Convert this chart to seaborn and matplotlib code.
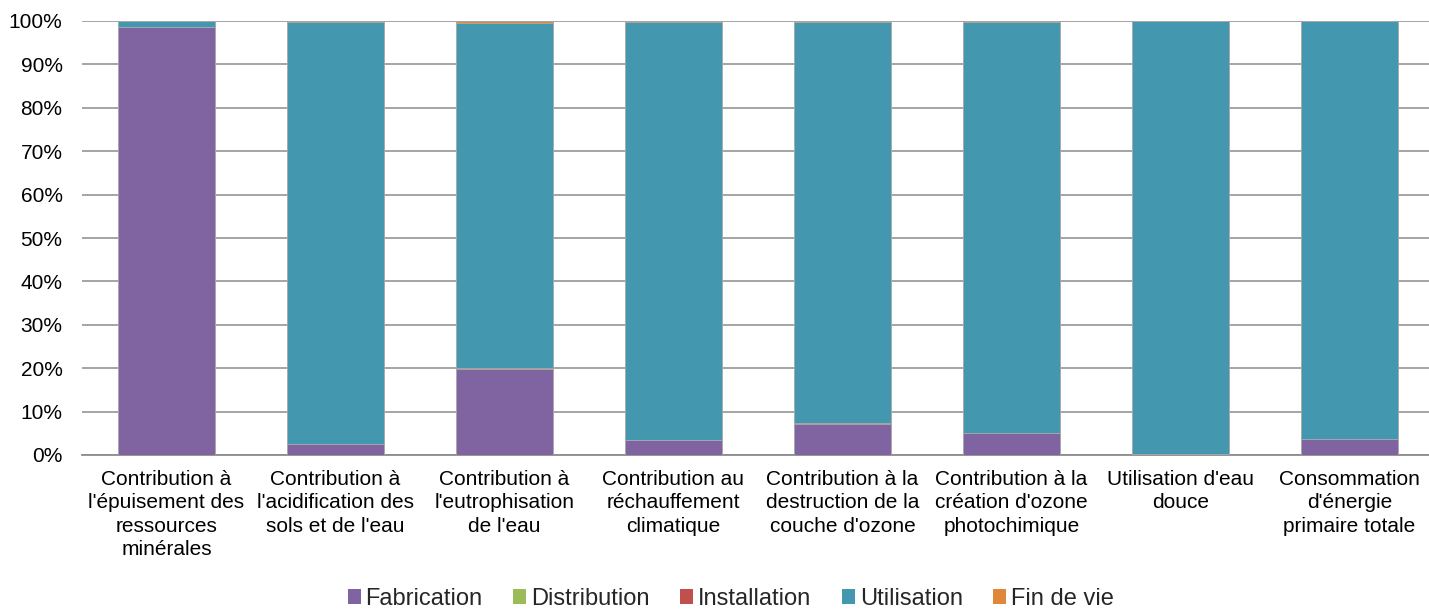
import matplotlib
matplotlib.use("Agg")
import matplotlib.pyplot as plt
import seaborn as sns
import numpy as np
import pandas as pd
from matplotlib.patches import Rectangle
from matplotlib.ticker import FuncFormatter

categories = [
    "Contribution à\nl'épuisement des\nressources\nminérales",
    "Contribution à\nl'acidification des\nsols et de l'eau",
    "Contribution à\nl'eutrophisation\nde l'eau",
    "Contribution au\nréchauffement\nclimatique",
    "Contribution à la\ndestruction de la\ncouche d'ozone",
    "Contribution à la\ncréation d'ozone\nphotochimique",
    "Utilisation d'eau\ndouce",
    "Consommation\nd'énergie\nprimaire totale",
]
series_names = ["Fabrication", "Distribution", "Installation", "Utilisation", "Fin de vie"]
fabrication = [98.6, 2.45, 19.8, 3.4, 7.2, 5.1, 0.3, 3.6]
distribution = [0.05, 0.05, 0.1, 0.05, 0.05, 0.05, 0.02, 0.03]
installation = [0.02, 0.02, 0.05, 0.02, 0.02, 0.02, 0.01, 0.01]
utilisation = [1.31, 97.18, 79.55, 96.23, 92.53, 94.63, 99.62, 96.26]
fin_de_vie = [0.02, 0.3, 0.5, 0.3, 0.2, 0.2, 0.05, 0.1]
y_ticks = [0, 10, 20, 30, 40, 50, 60, 70, 80, 90, 100]

colors = ["#8064A2", "#9BBB59", "#C0504D", "#4398AF", "#E0883A"]

sns.set_theme(style="white")
plt.rcParams["font.family"] = ["Liberation Sans", "DejaVu Sans"]

fig = plt.figure(figsize=(14.29, 6.11), dpi=100)
ax = fig.add_axes([82 / 1429, 1 - 455 / 611, (1434 - 82) / 1429, (455 - 21) / 611])

series = [fabrication, distribution, installation, utilisation, fin_de_vie]
bottom = np.zeros(len(categories))
for name, vals, col in zip(series_names, series, colors):
    df = pd.DataFrame({"cat": categories, "val": vals})
    sns.barplot(data=df, x="cat", y="val", bottom=bottom, color=col, saturation=1,
                width=0.574, edgecolor="#a8a8a8", linewidth=0.6, ax=ax, zorder=3)
    bottom = bottom + np.array(vals)

ax.set_ylim(0, 100)
ax.set_xlim(-0.5, len(categories) - 0.5)
ax.set_yticks(y_ticks)
ax.yaxis.set_major_formatter(FuncFormatter(lambda v, p: f"{v:.0f}%"))
ax.set_xlabel("")
ax.set_ylabel("")
ax.grid(axis="y", color="#8c8c8c", linewidth=1.1, zorder=0)
ax.grid(axis="x", visible=False)
ax.set_axisbelow(True)
for s in ["top", "right", "left"]:
    ax.spines[s].set_visible(False)
ax.spines["bottom"].set_color("#8c8c8c")
ax.spines["bottom"].set_linewidth(1.3)
ax.tick_params(axis="y", length=0, pad=14, labelsize=15, labelcolor="black")
ax.tick_params(axis="x", length=0, pad=11, labelsize=15, labelcolor="black")
for lbl in ax.get_xticklabels():
    lbl.set_linespacing(1.28)
    lbl.set_verticalalignment("top")

handles = [Rectangle((0, 0), 1, 1, facecolor=c, edgecolor="none") for c in colors]
fig.legend(handles, series_names, loc="center", bbox_to_anchor=(0.5115, 0.02),
           ncol=5, frameon=False, fontsize=17, handlelength=0.55, handleheight=0.55,
           handletextpad=0.2, columnspacing=1.3, borderaxespad=0, borderpad=0)

fig.savefig("out.png", dpi=100)
